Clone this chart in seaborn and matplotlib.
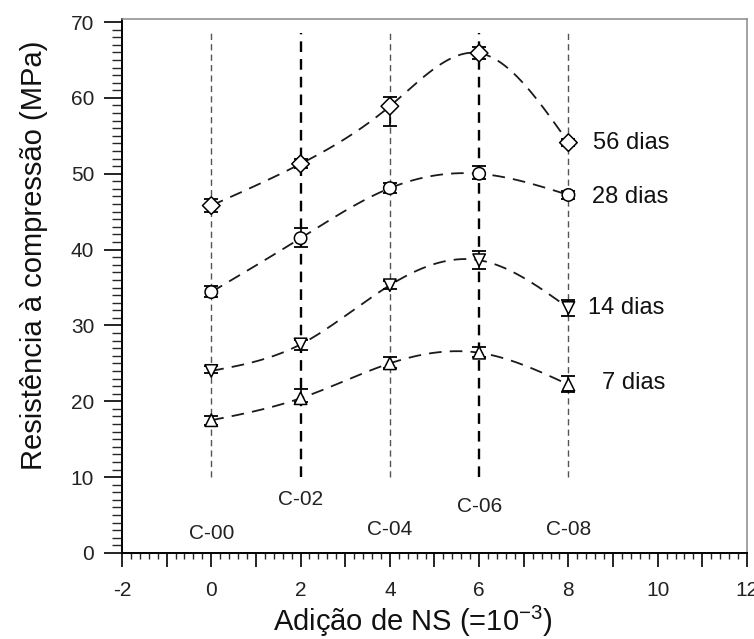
import numpy as np
import pandas as pd
import matplotlib
matplotlib.use("Agg")
import matplotlib.pyplot as plt
from matplotlib.ticker import MultipleLocator, FuncFormatter
import seaborn as sns

# ---- data ----
doses = [0, 2, 4, 6, 8]
ages = ["7 dias", "14 dias", "28 dias", "56 dias"]
val_7 = [17.5, 20.4, 25.0, 26.4, 22.2]
val_14 = [24.0, 27.5, 35.3, 38.6, 32.3]
val_28 = [34.4, 41.5, 48.1, 50.0, 47.2]
val_56 = [45.8, 51.3, 58.9, 65.9, 54.1]
err_lo_7 = [0.6, 0.5, 0.6, 0.5, 1.0]
err_hi_7 = [0.5, 1.2, 0.9, 0.7, 1.1]
err_lo_14 = [0.3, 0.8, 0.5, 1.2, 1.0]
err_hi_14 = [0.6, 0.6, 0.5, 1.2, 1.0]
err_lo_28 = [0.7, 1.1, 0.7, 0.7, 0.5]
err_hi_28 = [0.8, 1.3, 0.7, 1.0, 0.5]
err_lo_56 = [0.9, 0.6, 2.6, 0.8, 0.5]
err_hi_56 = [0.9, 0.6, 1.2, 0.8, 0.5]
label_x = [8.75, 8.44, 8.53, 8.55]
label_y = [22.4, 32.3, 46.9, 54.0]
mix_names = ["C-00", "C-02", "C-04", "C-06", "C-08"]
mix_y = [2.6, 7.0, 3.1, 6.1, 3.1]

values = {"7 dias": val_7, "14 dias": val_14, "28 dias": val_28, "56 dias": val_56}
errs = {"7 dias": (err_lo_7, err_hi_7), "14 dias": (err_lo_14, err_hi_14),
        "28 dias": (err_lo_28, err_hi_28), "56 dias": (err_lo_56, err_hi_56)}
markers = {"7 dias": "^", "14 dias": "v", "28 dias": "o", "56 dias": "D"}

df = pd.DataFrame([(d, a, v) for a in ages for d, v in zip(doses, values[a])],
                  columns=["dose", "idade", "valor"])

sns.set_style("ticks")
plt.rcParams["font.family"] = ["Liberation Sans", "DejaVu Sans"]
plt.rcParams["mathtext.fontset"] = "custom"
plt.rcParams["mathtext.rm"] = "Liberation Sans"
plt.rcParams["mathtext.it"] = "Liberation Sans"
plt.rcParams["mathtext.default"] = "regular"


def natural_spline(x, y, xs):
    x = np.asarray(x, float); y = np.asarray(y, float)
    n = len(x); h = np.diff(x)
    A = np.zeros((n, n)); b = np.zeros(n)
    A[0, 0] = A[-1, -1] = 1
    for i in range(1, n - 1):
        A[i, i - 1] = h[i - 1]; A[i, i] = 2 * (h[i - 1] + h[i]); A[i, i + 1] = h[i]
        b[i] = 3 * ((y[i + 1] - y[i]) / h[i] - (y[i] - y[i - 1]) / h[i - 1])
    c = np.linalg.solve(A, b)
    bb = (y[1:] - y[:-1]) / h - h * (2 * c[:-1] + c[1:]) / 3
    d = (c[1:] - c[:-1]) / (3 * h)
    idx = np.clip(np.searchsorted(x, xs) - 1, 0, n - 2)
    t = xs - x[idx]
    return y[idx] + bb[idx] * t + c[idx] * t ** 2 + d[idx] * t ** 3


fig = plt.figure(figsize=(7.54, 6.39), dpi=100)
ax = fig.add_axes([0.1618, 0.1346, 0.8289, 0.8357])

# vertical dashed guide lines
for d in doses:
    heavy = d in (2, 6)
    ax.vlines(d, 10, 68.5, colors="black" if heavy else "#555555",
              linestyles=(0, (4.5, 3)), linewidth=1.7 if heavy else 1.0, zorder=1)

xs = np.linspace(0, 8, 300)
for a in ages:
    ax.plot(xs, natural_spline(doses, values[a], xs), color="#1a1a1a",
            linestyle=(0, (7, 4.5)), linewidth=1.3, zorder=2)
    lo, hi = errs[a]
    ax.errorbar(doses, values[a], yerr=[lo, hi], fmt="none", ecolor="black",
                elinewidth=1.2, capsize=5, capthick=1.3, zorder=3)

sns.scatterplot(data=df, x="dose", y="valor", style="idade", markers=markers,
                style_order=ages, color="white", edgecolor="black", linewidth=1.1,
                s=80, legend=False, ax=ax, zorder=4)
ax.set_xlabel("")
ax.set_ylabel("")

for a, lx, ly in zip(ages, label_x, label_y):
    ax.text(lx, ly, a, fontsize=17, va="center", ha="left", color="#111111")
for d, nm, my in zip(doses, mix_names, mix_y):
    ax.text(d, my, nm, fontsize=15, va="center", ha="center", color="#222222")

ax.set_xlim(-2, 12)
ax.set_ylim(0, 70.4)
ax.xaxis.set_major_locator(MultipleLocator(1))
ax.xaxis.set_minor_locator(MultipleLocator(0.2))
ax.xaxis.set_major_formatter(FuncFormatter(lambda v, p: f"{int(round(v))}" if int(round(v)) % 2 == 0 else ""))
ax.yaxis.set_major_locator(MultipleLocator(10))
ax.yaxis.set_minor_locator(MultipleLocator(1))
ax.yaxis.set_major_formatter(FuncFormatter(lambda v, p: f"{int(round(v))}"))
ax.tick_params(which="major", width=1.2, labelsize=15, direction="out", colors="black")
ax.tick_params(axis="x", which="major", length=10, pad=10, labelcolor="#222222")
ax.tick_params(axis="x", which="minor", length=4.5, width=1.0, direction="out")
ax.tick_params(axis="y", which="major", length=13, pad=7, labelcolor="#222222")
ax.tick_params(axis="y", which="minor", length=7, width=1.0, direction="out")

for s in ["top", "right"]:
    ax.spines[s].set_visible(True)
    ax.spines[s].set_color("#8a8a8a")
    ax.spines[s].set_linewidth(1.1)
for s in ["left", "bottom"]:
    ax.spines[s].set_color("black")
    ax.spines[s].set_linewidth(1.4)

fig.text(0.547, 0.012, "Adição de NS (=10$^{-3}$)", fontsize=21, ha="center",
         va="baseline", color="#111111")
fig.text(0.045, 0.600, "Resistência à compressão (MPa)", fontsize=21, ha="center",
         va="center", rotation=90, color="#111111")

fig.savefig("out.png", dpi=100)
